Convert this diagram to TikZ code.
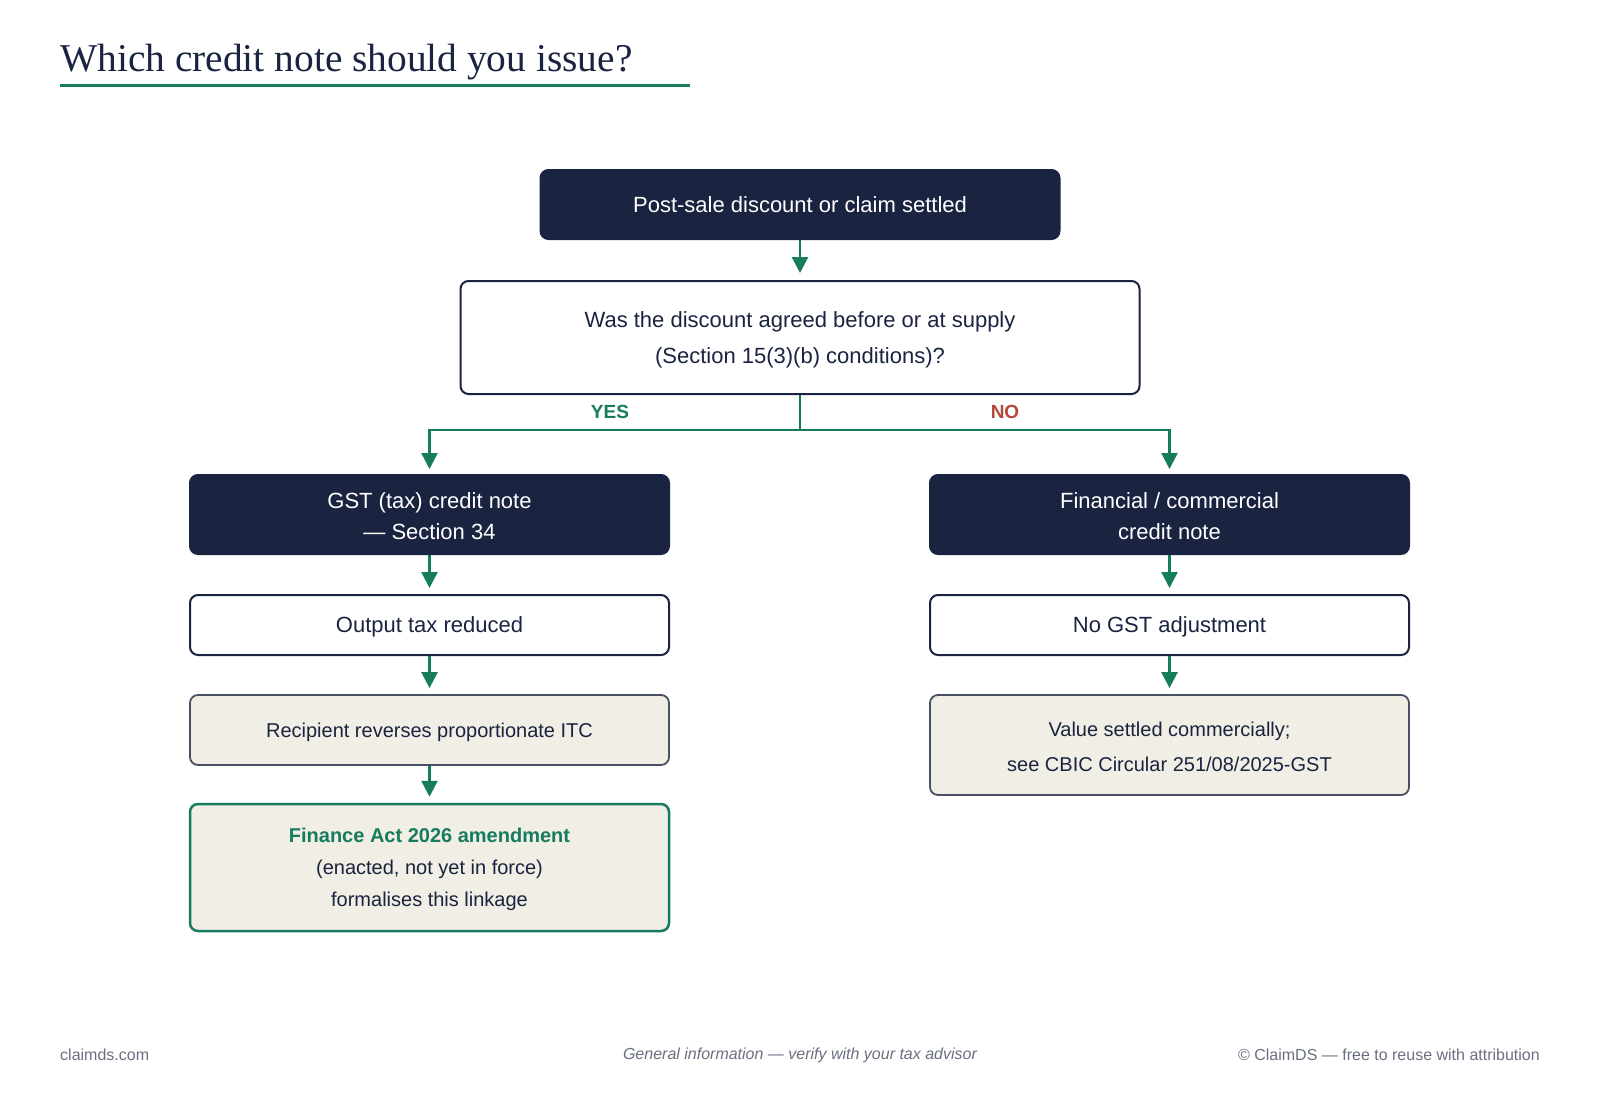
\documentclass[tikz,border=0pt]{standalone}
\usepackage{fontspec}
\setmainfont{Liberation Sans}
\newfontfamily\titlefont{Liberation Serif}
\usetikzlibrary{arrows.meta}
\definecolor{navy}{HTML}{1A2340}
\definecolor{tealg}{HTML}{167C5E}
\definecolor{beigec}{HTML}{F1EEE5}
\definecolor{edgegray}{HTML}{4A5064}
\definecolor{redno}{HTML}{B4483A}
\definecolor{footgray}{HTML}{6B7080}
\newcommand{\lowerby}{\rule{0pt}{\dimexpr0.73em+4pt\relax}}
\tikzset{
  box/.style={rectangle, rounded corners=8pt, minimum width=479pt, align=center, inner sep=0pt, line width=2pt},
  darkbox/.style={box, fill=navy, draw=navy, text=white, font=\fontsize{22}{31}\selectfont},
  lightbox/.style={box, fill=white, draw=navy, text=navy, font=\fontsize{22}{36}\selectfont},
  beigebox/.style={box, fill=beigec, draw=edgegray, text=navy, line width=1.8pt, font=\fontsize{20}{35}\selectfont},
  greenbox/.style={box, fill=beigec, draw=tealg, text=navy, line width=2.5pt, font=\fontsize{20}{32}\selectfont},
  arr/.style={draw=tealg, line width=2.5pt, -{Triangle[width=16pt,length=16pt]}, shorten >=6pt},
  conn/.style={draw=tealg, line width=2.5pt},
  lbl/.style={font=\bfseries\fontsize{19}{19}\selectfont, inner sep=0pt},
  foot/.style={text=footgray, font=\fontsize{16}{16}\selectfont, inner sep=0pt}
}
\begin{document}
\begin{tikzpicture}[x=1pt,y=-1pt]
\useasboundingbox (0,0) rectangle (1600,1100);
\fill[white] (0,0) rectangle (1600,1100);
% title
\node[anchor=base west, inner sep=0pt, text=navy, font=\titlefont\fontsize{39.4}{39.4}\selectfont] (title) at (60,71) {Which credit note should you issue?};
\draw[tealg, line width=3.5pt] (60,85.5) coordinate (ul1) -- (690,85.5) coordinate (ul2);
% nodes
\node[darkbox, minimum width=519pt, minimum height=69pt] (top) at (800,204.5) {Post-sale discount or claim settled};
\node[lightbox, minimum width=679pt, minimum height=113pt] (q) at (800,337.5) {\lowerby Was the discount agreed before or at supply\\(Section 15(3)(b) conditions)?};
\node[darkbox, minimum height=79pt] (gst) at (429.5,514.5) {\lowerby GST (tax) credit note\\— Section 34};
\node[darkbox, minimum height=79pt] (fin) at (1169.5,514.5) {\lowerby Financial / commercial\\credit note};
\node[lightbox, minimum height=60pt] (out) at (429.5,625) {\lowerby Output tax reduced};
\node[lightbox, minimum height=60pt] (nogst) at (1169.5,625) {\lowerby No GST adjustment};
\node[beigebox, minimum height=70pt] (rec) at (429.5,730) {\lowerby Recipient reverses proportionate ITC};
\node[beigebox, minimum height=100pt] (val) at (1169.5,745) {\lowerby Value settled commercially;\\see CBIC Circular 251/08/2025-GST};
\node[greenbox, minimum height=127pt] (fa) at (429.5,867.5) {\lowerby{\color{tealg}\bfseries Finance Act 2026 amendment}\\(enacted, not yet in force)\\formalises this linkage};
% connectors
\draw[arr, shorten >=7pt] (top.south) -- (q.north);
\coordinate (j) at (800,430);
\draw[conn] (q.south) -- (j);
\draw[arr, shorten >=5pt] (j) -| (gst.north);
\draw[arr, shorten >=5pt] (j) -| (fin.north);
\draw[arr] (gst.south) -- (out.north);
\draw[arr] (out.south) -- (rec.north);
\draw[arr] (rec.south) -- (fa.north);
\draw[arr] (fin.south) -- (nogst.north);
\draw[arr] (nogst.south) -- (val.north);
% labels
\node[lbl, text=tealg] (yes) at (610,412) {YES};
\node[lbl, text=redno] (no) at (1005,412) {NO};
% footer
\node[foot, anchor=west] (fl) at (60,1055) {claimds.com};
\node[foot, font=\itshape\fontsize{16}{16}\selectfont] (fc) at (800,1055) {General information — verify with your tax advisor};
\node[foot, anchor=east] (fr) at (1540,1055) {© ClaimDS — free to reuse with attribution};
\end{tikzpicture}
\end{document}
